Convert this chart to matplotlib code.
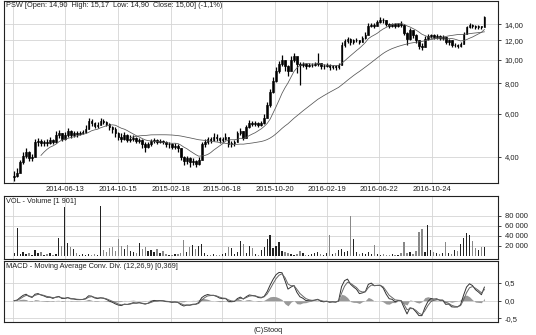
import numpy as np
import pandas as pd
import matplotlib
matplotlib.use("Agg")
import matplotlib.pyplot as plt
from matplotlib.ticker import FuncFormatter, FixedLocator, NullLocator

# weekly bars (PSW, Stooq)
start_date = "2014-02-14"
first_open = 3.30

close = [
    3.35, 3.45, 3.80, 4.05, 4.20, 3.95, 4.00, 4.60, 4.65, 4.55,
    4.60, 4.55, 4.70, 4.60, 4.90, 5.00, 4.75, 4.90, 5.10, 4.90,
    5.00, 4.95, 5.00, 5.05, 5.20, 5.60, 5.50, 5.35, 5.40, 5.60,
    5.55, 5.45, 5.30, 5.20, 5.00, 4.85, 4.75, 4.90, 4.70, 4.75,
    4.80, 4.65, 4.70, 4.50, 4.40, 4.50, 4.65, 4.70, 4.60, 4.65,
    4.60, 4.50, 4.50, 4.40, 4.45, 4.35, 4.00, 3.85, 3.95, 3.80,
    3.85, 3.75, 3.90, 4.50, 4.60, 4.75, 4.70, 4.85, 4.80, 4.70,
    4.75, 4.85, 4.50, 4.55, 4.60, 5.00, 5.10, 4.80, 5.30, 5.50,
    5.45, 5.50, 5.40, 5.50, 5.80, 6.50, 7.40, 8.20, 9.00, 9.60,
    10.00, 9.40, 9.00, 10.00, 10.40, 9.60, 9.50, 9.60, 9.40, 9.50,
    9.50, 9.60, 9.70, 9.40, 9.40, 9.50, 9.30, 9.40, 9.30, 9.50,
    11.50, 11.90, 12.20, 11.80, 12.00, 12.10, 11.80, 12.30, 12.60, 13.80,
    13.90, 13.80, 14.30, 14.60, 14.50, 14.00, 13.80, 14.00, 13.70, 14.00,
    13.90, 12.90, 12.20, 13.20, 12.60, 12.00, 11.40, 11.30, 12.20, 12.50,
    12.60, 12.40, 12.50, 12.30, 12.40, 11.80, 12.00, 11.50, 11.50, 11.40,
    11.60, 12.80, 13.60, 13.90, 13.80, 13.60, 13.70, 13.60, 15.00,
]

high = [
    3.50, 3.60, 3.90, 4.20, 4.35, 4.25, 4.10, 4.75, 4.80, 4.75,
    4.70, 4.75, 4.85, 4.75, 5.10, 5.15, 5.00, 5.05, 5.25, 5.15,
    5.10, 5.10, 5.10, 5.15, 5.40, 5.80, 5.70, 5.55, 5.55, 5.75,
    5.70, 5.60, 5.50, 5.35, 5.30, 5.05, 5.00, 5.05, 4.95, 4.90,
    4.90, 4.85, 4.80, 4.75, 4.60, 4.60, 4.75, 4.80, 4.75, 4.75,
    4.70, 4.65, 4.60, 4.55, 4.55, 4.50, 4.35, 4.05, 4.05, 4.00,
    3.95, 3.90, 4.00, 4.60, 4.75, 4.85, 4.85, 5.00, 4.95, 4.85,
    4.85, 5.00, 4.85, 4.65, 4.70, 5.10, 5.25, 5.10, 5.40, 5.65,
    5.60, 5.60, 5.55, 5.60, 6.00, 6.70, 7.60, 8.50, 9.30, 9.90,
    10.50, 10.00, 9.50, 10.40, 10.70, 10.30, 9.80, 9.80, 9.70, 9.70,
    9.70, 9.80, 10.70, 9.70, 9.60, 9.70, 9.60, 9.50, 9.50, 9.70,
    11.80, 12.20, 12.40, 12.30, 12.20, 12.30, 12.10, 12.50, 13.00, 14.10,
    14.20, 14.10, 14.60, 15.00, 14.80, 14.60, 14.10, 14.20, 14.10, 14.20,
    14.40, 14.00, 13.00, 13.50, 13.30, 12.70, 12.10, 11.70, 12.50, 12.80,
    12.80, 12.70, 12.70, 12.60, 12.60, 12.40, 12.20, 12.00, 11.70, 11.60,
    11.80, 13.00, 13.80, 14.20, 14.00, 13.90, 13.90, 13.80, 15.17,
]

low = [
    3.20, 3.30, 3.45, 3.75, 3.95, 3.85, 3.85, 4.00, 4.45, 4.45,
    4.45, 4.45, 4.50, 4.50, 4.55, 4.80, 4.65, 4.70, 4.85, 4.80,
    4.85, 4.85, 4.90, 4.95, 5.00, 5.20, 5.35, 5.25, 5.25, 5.40,
    5.45, 5.35, 5.15, 5.00, 4.85, 4.70, 4.60, 4.70, 4.60, 4.60,
    4.65, 4.55, 4.55, 4.35, 4.20, 4.35, 4.45, 4.55, 4.50, 4.55,
    4.50, 4.40, 4.35, 4.30, 4.30, 4.20, 3.90, 3.70, 3.75, 3.65,
    3.70, 3.65, 3.70, 3.90, 4.40, 4.50, 4.55, 4.65, 4.65, 4.55,
    4.60, 4.70, 4.40, 4.40, 4.45, 4.60, 4.90, 4.70, 4.80, 5.25,
    5.35, 5.35, 5.30, 5.35, 5.45, 5.80, 6.40, 7.30, 8.10, 8.80,
    9.40, 9.00, 8.60, 9.00, 9.80, 8.80, 7.90, 9.30, 9.20, 9.30,
    9.30, 9.40, 9.40, 9.20, 9.20, 9.30, 9.10, 9.20, 9.10, 9.20,
    9.50, 11.30, 11.70, 11.50, 11.60, 11.80, 11.60, 11.80, 12.20, 12.60,
    13.60, 13.50, 13.80, 14.20, 14.20, 13.80, 13.50, 13.60, 13.50, 13.60,
    13.60, 12.60, 11.50, 12.10, 12.30, 11.70, 11.10, 11.00, 11.30, 12.10,
    12.30, 12.20, 12.20, 12.10, 12.10, 11.60, 11.50, 11.30, 11.30, 11.20,
    11.30, 11.60, 12.70, 13.50, 13.50, 13.40, 13.40, 13.40, 13.60,
]

volume = [
    6000, 56000, 5000, 8000, 4000, 7000, 3000, 12000, 6000, 8000,
    3000, 4000, 6000, 3000, 5000, 36000, 20000, 98000, 26000, 18000,
    15000, 6000, 3000, 4000, 2000, 5000, 3000, 4000, 2000, 100000,
    12000, 8000, 16000, 18000, 10000, 34000, 20000, 14000, 22000, 10000,
    8000, 6000, 26000, 14000, 18000, 10000, 12000, 8000, 14000, 6000,
    10000, 4000, 2000, 3000, 5000, 4000, 6000, 32000, 8000, 18000,
    22000, 14000, 20000, 24000, 6000, 3000, 2000, 4000, 2000, 3000,
    5000, 6000, 18000, 16000, 5000, 8000, 30000, 24000, 6000, 20000,
    16000, 4000, 3000, 12000, 18000, 34000, 42000, 16000, 20000, 28000,
    10000, 8000, 6000, 4000, 3000, 5000, 10000, 6000, 3000, 2000,
    4000, 6000, 8000, 5000, 3000, 6000, 42000, 5000, 6000, 12000,
    14000, 8000, 10000, 80000, 34000, 8000, 4000, 6000, 5000, 8000,
    4000, 22000, 4000, 3000, 5000, 2000, 3000, 4000, 2000, 3000,
    6000, 28000, 6000, 8000, 5000, 10000, 48000, 55000, 8000, 62000,
    12000, 8000, 6000, 4000, 6000, 28000, 6000, 4000, 12000, 10000,
    24000, 36000, 46000, 42000, 30000, 16000, 12000, 18000, 18000,
]

grid_dates = ["2014-02-12", "2014-06-13", "2014-10-15", "2015-02-18", "2015-06-18",
              "2015-10-20", "2016-02-19", "2016-06-22", "2016-10-24"]
grid_labels = ["", "2014-06-13", "2014-10-15", "2015-02-18", "2015-06-18",
               "2015-10-20", "2016-02-19", "2016-06-22", "2016-10-24"]

price_ticks = [4, 6, 8, 10, 12, 14]
vol_ticks = [20000, 40000, 60000, 80000]
macd_ticks = [-0.5, 0.0, 0.5]

title_text = "PSW [Open: 14,90  High: 15,17  Low: 14,90  Close: 15,00] (-1,1%)"
vol_text = "VOL - Volume [1 901]"
macd_text = "MACD - Moving Average Conv. Div. (12,26,9) [0,369]"

# frame
dates = pd.date_range(start_date, periods=len(close), freq="W-FRI")
df = pd.DataFrame({"close": close, "high": high, "low": low, "volume": volume}, index=dates)
df["open"] = df["close"].shift(1).fillna(first_open)

df["ma_fast"] = df["close"].rolling(10).mean()   # ~50 sessions
df["ma_slow"] = df["close"].rolling(40).mean()   # ~200 sessions


def weekly_alpha(span):
    # weekly ema with the same lag as a daily ema of this span
    return 10.0 / (span + 9)


ema12 = df["close"].ewm(alpha=weekly_alpha(12), adjust=False).mean()
ema26 = df["close"].ewm(alpha=weekly_alpha(26), adjust=False).mean()
df["macd"] = ema12 - ema26
df["signal"] = df["macd"].ewm(alpha=weekly_alpha(9), adjust=False).mean()
df["hist"] = df["macd"] - df["signal"]

plt.rcParams["font.family"] = ["Liberation Sans", "DejaVu Sans"]
fs = 5.3
grid_c = "#d4d4d4"

fig = plt.figure(figsize=(5.36, 3.35), dpi=100)
W, H = 536.0, 335.0


def panel(top, bottom):
    return fig.add_axes([4 / W, 1 - bottom / H, 494 / W, (bottom - top) / H])


ax = panel(1, 183)
axv = panel(196, 259)
axm = panel(261, 322)

xmin = pd.Timestamp("2014-01-21")
xmax = pd.Timestamp("2017-03-28")
grid_ts = pd.to_datetime(grid_dates)

for a in (ax, axv, axm):
    a.set_xlim(xmin, xmax)
    a.yaxis.tick_right()
    a.xaxis.set_major_locator(FixedLocator(matplotlib.dates.date2num(grid_ts)))
    a.xaxis.set_minor_locator(NullLocator())
    a.grid(True, color=grid_c, lw=0.6)
    a.set_axisbelow(True)
    for s in a.spines.values():
        s.set_color("#222222")
        s.set_linewidth(0.8)
    a.tick_params(axis="y", which="both", length=2.5, width=0.6, pad=2.5,
                  labelsize=fs + 0.2, colors="#222222")
    a.tick_params(axis="x", length=0)

# price panel
up = df["close"] >= df["open"]
ax.vlines(df.index, df["low"], df["high"], color="black", lw=0.9)
ax.bar(df.index[up], (df["close"] - df["open"])[up], bottom=df["open"][up],
       width=4, color="#bbbbbb", edgecolor="black", lw=0.5)
ax.bar(df.index[~up], (df["open"] - df["close"])[~up], bottom=df["close"][~up],
       width=4, color="black", edgecolor="black", lw=0.5)
ax.plot(df.index, df["ma_fast"], color="#555555", lw=0.55)
ax.plot(df.index, df["ma_slow"], color="#555555", lw=0.55)
ax.set_yscale("log")
ax.set_ylim(3.13, 17.4)
ax.yaxis.set_major_locator(FixedLocator(price_ticks))
ax.yaxis.set_minor_locator(NullLocator())
ax.yaxis.set_major_formatter(FuncFormatter(lambda v, p: f"{v:.2f}".replace(".", ",")))
ax.set_xticklabels(grid_labels, fontsize=fs + 0.2, color="#222222")
ax.tick_params(axis="x", pad=2)
ax.text(0.004, 0.992, title_text, transform=ax.transAxes, fontsize=fs,
        va="top", ha="left", color="#222222")

# volume panel
vol_colors = np.where(up, "#222222", "#888888")
axv.bar(df.index, df["volume"], width=3, color=vol_colors, lw=0)
axv.set_ylim(-6000, 120000)
axv.yaxis.set_major_locator(FixedLocator(vol_ticks))
axv.yaxis.set_major_formatter(FuncFormatter(lambda v, p: f"{int(v):,}".replace(",", " ")))
axv.set_xticklabels([])
axv.text(0.004, 0.975, vol_text, transform=axv.transAxes, fontsize=fs,
         va="top", ha="left", color="#222222")

# MACD panel
axm.fill_between(df.index, 0, df["hist"], color="#999999", lw=0)
axm.plot(df.index, df["macd"], color="#333333", lw=0.7)
axm.plot(df.index, df["signal"], color="#666666", lw=0.7)
axm.set_ylim(-0.6, 1.12)
axm.yaxis.set_major_locator(FixedLocator(macd_ticks))
axm.yaxis.set_major_formatter(FuncFormatter(lambda v, p: f"{v:.1f}".replace(".", ",")))
axm.set_xticklabels([])
axm.text(0.004, 0.975, macd_text, transform=axm.transAxes, fontsize=fs,
         va="top", ha="left", color="#222222")

fig.text(268 / W, 1 - 330 / H, "(C)Stooq", fontsize=fs, ha="center", va="center",
         color="#222222")

fig.savefig("out.png", dpi=100, facecolor="white")
